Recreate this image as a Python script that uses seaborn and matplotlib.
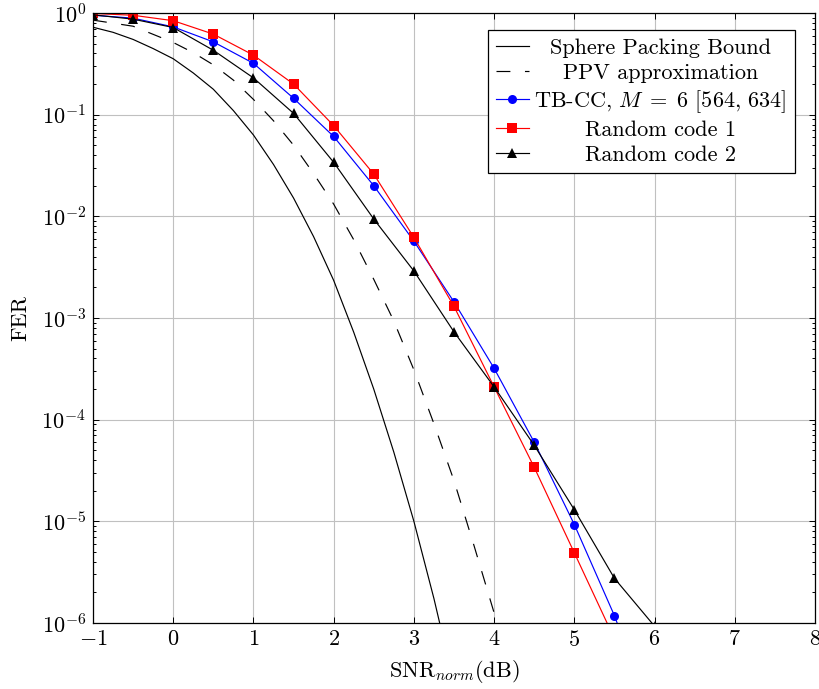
import numpy as np
import matplotlib
matplotlib.use("Agg")
import matplotlib.pyplot as plt
import seaborn as sns

# ---------------- data ----------------
x_bound = [-1, -0.75, -0.5, -0.25, 0, 0.25, 0.5, 0.75, 1, 1.25, 1.5, 1.75, 2,
           2.25, 2.5, 2.75, 3, 3.25, 3.5]
log_sphere = [-0.14, -0.19, -0.26, -0.35, -0.45, -0.59, -0.75, -0.96, -1.20,
              -1.49, -1.82, -2.20, -2.63, -3.14, -3.70, -4.32, -5.00, -5.76, -6.6]

x_ppv = [-1, -0.75, -0.5, -0.25, 0, 0.25, 0.5, 0.75, 1, 1.25, 1.5, 1.75, 2,
         2.25, 2.5, 2.75, 3, 3.25, 3.5, 3.75, 4, 4.25]
log_ppv = [-0.07, -0.10, -0.13, -0.21, -0.29, -0.39, -0.51, -0.66, -0.85, -1.06,
           -1.30, -1.58, -1.88, -2.23, -2.62, -3.03, -3.51, -4.04, -4.60, -5.24,
           -5.90, -6.6]

x_tbcc = [-1, -0.5, 0, 0.5, 1, 1.5, 2, 2.5, 3, 3.5, 4, 4.5, 5, 5.5, 6]
fer_tbcc = [0.95, 0.89, 0.73, 0.52, 0.32, 0.145, 0.061, 0.020, 0.0057, 0.00144,
            3.2e-4, 6.0e-5, 9.3e-6, 1.18e-6, 1.0e-7]

x_rand1 = [-1, -0.5, 0, 0.5, 1, 1.5, 2, 2.5, 3, 3.5, 4, 4.5, 5, 5.5]
fer_rand1 = [0.99, 0.95, 0.84, 0.62, 0.385, 0.20, 0.078, 0.026, 0.0062, 0.0013,
             2.1e-4, 3.4e-5, 4.9e-6, 7e-7]

x_rand2 = [-1, -0.5, 0, 0.5, 1, 1.5, 2, 2.5, 3, 3.5, 4, 4.5, 5, 5.5, 6]
fer_rand2 = [0.96, 0.87, 0.72, 0.43, 0.23, 0.103, 0.034, 0.0094, 0.0029, 7.3e-4,
             2.1e-4, 5.6e-5, 1.3e-5, 2.75e-6, 9.3e-7]

labels = ["Sphere Packing Bound", "PPV approximation",
          r"TB-CC, $M\;=\;6$ $[564,\,634]$", "Random code 1", "Random code 2"]
x_ticks = [-1, 0, 1, 2, 3, 4, 5, 6, 7, 8]

# ---------------- style ----------------
plt.rcParams["font.family"] = ["cmr10", "DejaVu Serif"]
plt.rcParams["mathtext.fontset"] = "cm"
plt.rcParams["axes.formatter.use_mathtext"] = True
plt.rcParams["lines.scale_dashes"] = False
plt.rcParams["axes.unicode_minus"] = True

FS = 16

fig = plt.figure(figsize=(8.2, 6.89), dpi=100)
ax = fig.add_axes([93 / 820, 1 - 623 / 689, (815 - 93) / 820, (623 - 13) / 689])

lw = 0.85
sns.lineplot(x=x_bound, y=10 ** np.array(log_sphere), ax=ax, color="black",
             linewidth=lw, label=labels[0])
sns.lineplot(x=x_ppv, y=10 ** np.array(log_ppv), ax=ax, color="black",
             linewidth=lw, linestyle=(0, (10, 10.5)), label=labels[1])
sns.lineplot(x=x_tbcc, y=fer_tbcc, ax=ax, color="#0000ff", linewidth=lw,
             marker="o", markersize=6.5, markeredgecolor="#0000ff",
             markeredgewidth=0, label=labels[2])
sns.lineplot(x=x_rand1, y=fer_rand1, ax=ax, color="#ff0000", linewidth=lw,
             marker="s", markersize=6.5, markeredgecolor="#ff0000",
             markeredgewidth=0, label=labels[3])
sns.lineplot(x=x_rand2, y=fer_rand2, ax=ax, color="black", linewidth=lw,
             marker="^", markersize=7.5, markeredgecolor="black",
             markeredgewidth=0, label=labels[4])

ax.set_yscale("log")
ax.set_xlim(-1, 8)
ax.set_ylim(1e-6, 1)
ax.set_xticks(x_ticks)
ax.set_yticks([1e-6, 1e-5, 1e-4, 1e-3, 1e-2, 1e-1, 1])
ax.grid(True, which="major", color="#c0c0c0", linewidth=0.8)
ax.set_axisbelow(True)
for s in ax.spines.values():
    s.set_linewidth(0.9)
    s.set_color("black")
ax.tick_params(which="both", direction="in", top=True, right=True,
               labelsize=FS, width=0.7)
ax.tick_params(which="major", length=4, pad=5)
ax.tick_params(which="minor", length=2.5)

ax.set_xlabel(r"SNR$_{norm}$(dB)", fontsize=FS, labelpad=6)
ax.set_ylabel("FER", fontsize=FS, labelpad=8)

leg = ax.legend(loc="upper right", bbox_to_anchor=(1 - 20 / 722, 1 - 17 / 610),
                fontsize=FS, frameon=True, fancybox=False, framealpha=1,
                edgecolor="black", handlelength=1.45, handletextpad=0.25,
                labelspacing=0.24, borderpad=0.38, borderaxespad=0)
leg.get_frame().set_linewidth(0.9)

# center legend texts like pgfplots
fig.canvas.draw()
r = fig.canvas.get_renderer()
widths = [t.get_window_extent(r).width for t in leg.get_texts()]
mw = max(widths)
for t, w in zip(leg.get_texts(), widths):
    t.set_x((mw - w) / 2)

fig.savefig("out.png", dpi=100)
